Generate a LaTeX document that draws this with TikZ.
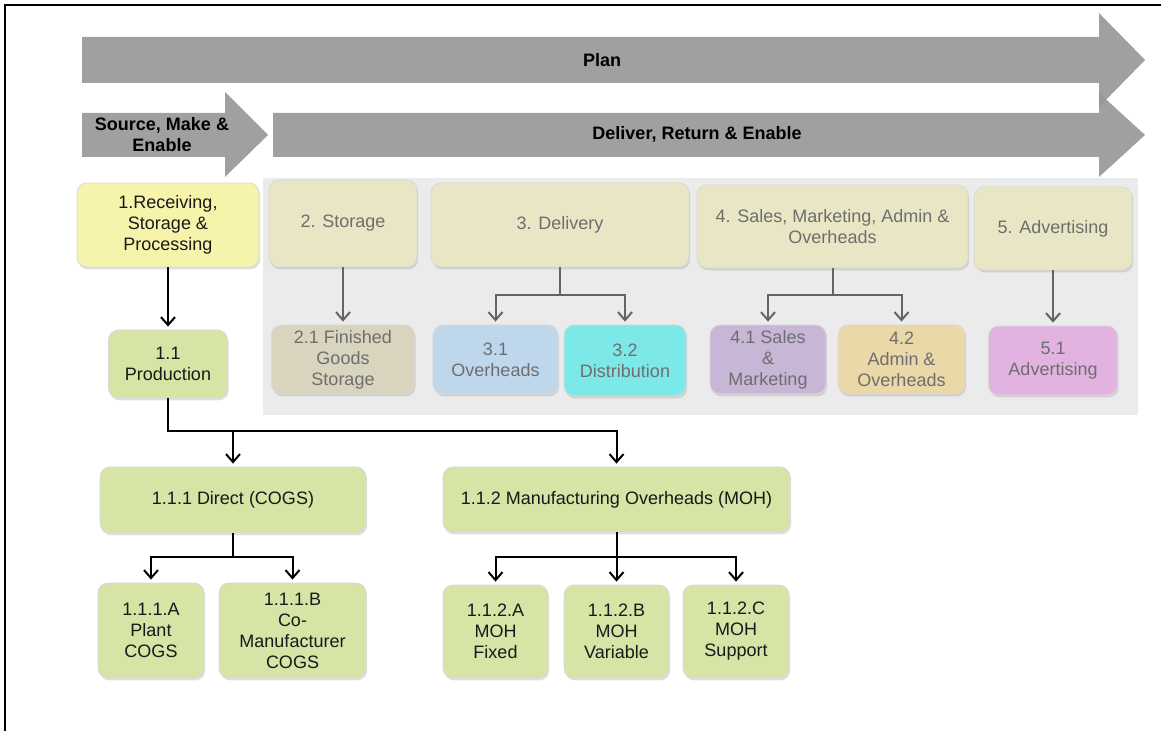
\documentclass[tikz,border=0pt]{standalone}
\usepackage{fontspec}
\setmainfont{Liberation Sans}
\usetikzlibrary{arrows.meta,shadows}

\begin{document}
\begin{tikzpicture}[x=0.5pt, y=-0.5pt,
  box/.style={draw=black!15, line width=0.4pt, rounded corners=5pt, align=center, inner sep=1pt,
    font=\fontsize{9}{10.5}\selectfont,
    drop shadow={shadow xshift=0.6pt, shadow yshift=-1.2pt, opacity=0.25}},
  greenbox/.style={box, fill=lightgreen, text=black!90},
  fadedbox/.style={box, text=fadedtext},
  link/.style={line width=1pt, -{Straight Barb[length=4pt, width=7pt]}, shorten >=1.5pt},
  fadedlink/.style={link, draw=fadedline},
  banner/.style={fill=bannergrey, fill opacity=0.9},
  bannertext/.style={font=\fontsize{9}{10.5}\selectfont\bfseries, align=center}]
  \definecolor{bannergrey}{RGB}{150,150,150}
  \definecolor{panelgrey}{RGB}{235,235,235}
  \definecolor{recyellow}{RGB}{246,244,170}
  \definecolor{topbeige}{RGB}{232,230,196}
  \definecolor{fgsgrey}{RGB}{217,212,190}
  \definecolor{ovhblue}{RGB}{190,215,236}
  \definecolor{distcyan}{RGB}{125,232,232}
  \definecolor{smklilac}{RGB}{200,182,214}
  \definecolor{admtan}{RGB}{234,216,168}
  \definecolor{advpink}{RGB}{226,178,224}
  \definecolor{lightgreen}{RGB}{214,228,166}
  \definecolor{fadedtext}{RGB}{110,110,110}
  \definecolor{fadedline}{RGB}{100,100,100}
  \useasboundingbox (0,0) rectangle (1161,731);

  % frame
  \draw[line width=1pt] (4.5,731) -- (4.5,5.5) -- (1161,5.5);

  % banners
  \fill[banner] (82,37) -- (1099,37) -- (1099,13) -- (1145,60) -- (1099,107) -- (1099,83) -- (82,83) -- cycle;
  \fill[banner] (273,113) -- (1099,113) -- (1099,93) -- (1145,135) -- (1099,177) -- (1099,157) -- (273,157) -- cycle;
  \fill[banner] (82,113) -- (225,113) -- (225,92) -- (268,135) -- (225,177) -- (225,157) -- (82,157) -- cycle;
  \node[bannertext] (plan) at (602,60) {Plan};
  \node[bannertext] (sme) at (162,135) {Source, Make \&\\Enable};
  \node[bannertext] (dre) at (697,134) {Deliver, Return \& Enable};

  % grey panel
  \fill[panelgrey] (263,178) rectangle (1138,415);

  % top row
  \node[box, fill=recyellow, text=black!90, minimum width=91pt, minimum height=42pt] (rec) at (168,225) {1.Receiving,\\Storage \&\\Processing};
  \node[fadedbox, fill=topbeige, minimum width=74pt, minimum height=43.5pt] (stor) at (343,223.5) {2. Storage};
  \node[fadedbox, fill=topbeige, minimum width=129pt, minimum height=42pt] (deliv) at (560,225) {3. Delivery};
  \node[fadedbox, fill=topbeige, minimum width=135.5pt, minimum height=41.5pt] (sma) at (832.5,226.5) {4. Sales, Marketing, Admin \&\\Overheads};
  \node[fadedbox, fill=topbeige, minimum width=79pt, minimum height=41.5pt] (adv) at (1053,228.5) {5. Advertising};

  % second row
  \node[greenbox, minimum width=59.5pt, minimum height=34pt] (prod) at (168,364) {1.1\\Production};
  \node[fadedbox, fill=fgsgrey, minimum width=71.5pt, minimum height=34.5pt] (fgs) at (343,359.5) {2.1 Finished\\Goods\\Storage};
  \node[fadedbox, fill=ovhblue, minimum width=62.5pt, minimum height=34.5pt] (ovh) at (495.5,359.5) {3.1\\Overheads};
  \node[fadedbox, fill=distcyan, minimum width=61pt, minimum height=35.5pt] (dist) at (625,360.5) {3.2\\Distribution};
  \node[fadedbox, fill=smklilac, minimum width=58pt, minimum height=34.5pt] (smk) at (768,359.5) {4.1 Sales\\\&\\Marketing};
  \node[fadedbox, fill=admtan, minimum width=63.5pt, minimum height=34.5pt] (adm) at (901.5,359.5) {4.2\\Admin \&\\Overheads};
  \node[fadedbox, fill=advpink, minimum width=64.5pt, minimum height=34.5pt] (adv1) at (1053,360.5) {5.1\\Advertising};

  % third row
  \node[greenbox, minimum width=133pt, minimum height=33pt] (dir) at (233,500) {1.1.1 Direct (COGS)};
  \node[greenbox, minimum width=173.5pt, minimum height=32.5pt] (moh) at (616.5,499.5) {1.1.2 Manufacturing Overheads (MOH)};

  % fourth row
  \node[greenbox, minimum width=53pt, minimum height=47.5pt] (pla) at (151,630.5) {1.1.1.A\\Plant\\COGS};
  \node[greenbox, minimum width=73.5pt, minimum height=47.5pt] (com) at (292.5,630.5) {1.1.1.B\\Co-\\Manufacturer\\COGS};
  \node[greenbox, minimum width=52.5pt, minimum height=46.5pt] (mfx) at (495.5,631.5) {1.1.2.A\\MOH\\Fixed};
  \node[greenbox, minimum width=52.5pt, minimum height=46.5pt] (mvr) at (616.5,631.5) {1.1.2.B\\MOH\\Variable};
  \node[greenbox, minimum width=53pt, minimum height=46.5pt] (msp) at (736,631.5) {1.1.2.C\\MOH\\Support};

  % links
  \draw[link] (rec) -- (prod);
  \draw[link] (prod.south) -- ++(0,33) -| (dir.north);
  \draw[link] (prod.south) -- ++(0,33) -| (moh.north);
  \draw[link] (dir.south) -- ++(0,24) -| (pla.north);
  \draw[link] (dir.south) -- ++(0,24) -| (com.north);
  \draw[link] (moh.south) -- ++(0,25) -| (mfx.north);
  \draw[link] (moh.south) -- (mvr.north);
  \draw[link] (moh.south) -- ++(0,25) -| (msp.north);

  % faded links
  \draw[fadedlink] (stor) -- (fgs);
  \draw[fadedlink] (deliv.south) -- ++(0,28) -| (ovh.north);
  \draw[fadedlink] (deliv.south) -- ++(0,28) -| (dist.north);
  \draw[fadedlink] (sma.south) -- ++(0,27) -| (smk.north);
  \draw[fadedlink] (sma.south) -- ++(0,27) -| (adm.north);
  \draw[fadedlink] (adv) -- (adv1);
\end{tikzpicture}
\end{document}
